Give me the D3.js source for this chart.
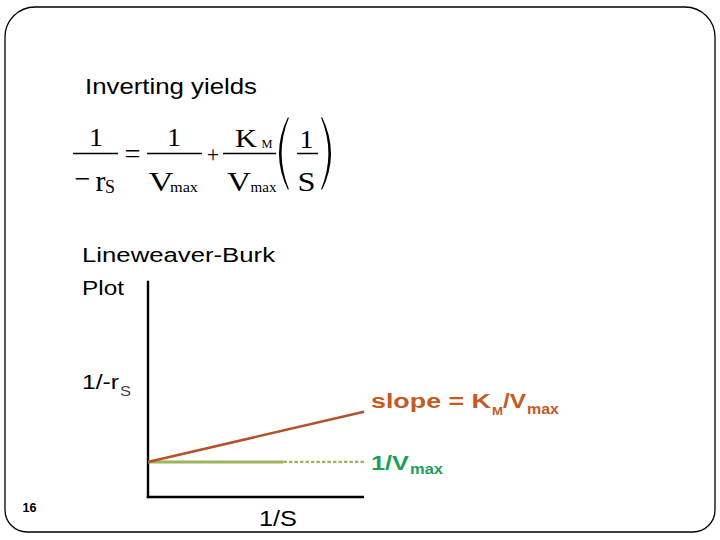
<!DOCTYPE html>
<html><head><meta charset="utf-8">
<script src="https://cdn.jsdelivr.net/npm/d3@7"></script>
<style>html,body{margin:0;padding:0;background:#fff;}svg{display:block;}</style>
</head><body>
<script>
// Data
const invS = [0, 1];                  // 1/S (arbitrary units)
const invRate = [0.162, 0.394];       // 1/-rS along the fitted line
const interceptVals = [0.162, 0.162]; // 1/Vmax horizontal reference
const solidEnd = 0.627;               // where the intercept reference turns dashed
const yLabels = ["1/-r", "S"];
const xLabel = "1/S";
const pageNumber = "16";

const W = 720, H = 540;
const svg = d3.select("body").append("svg").attr("width", W).attr("height", H);

// slide border
const L = 5, T = 7, R = 715, B = 532, rt = 30, rb = 22;
svg.append("path")
  .attr("d", `M${L+rt},${T} H${R-rt} A${rt},${rt} 0 0 1 ${R},${T+rt} V${B-rb} A${rb},${rb} 0 0 1 ${R-rb},${B} H${L+rb} A${rb},${rb} 0 0 1 ${L},${B-rb} V${T+rt} A${rt},${rt} 0 0 1 ${L+rt},${T} Z`)
  .attr("fill", "none").attr("stroke", "#000").attr("stroke-width", 1.3);

const sans = "Arial, 'Liberation Sans', sans-serif";
const serif = "'Times New Roman', 'Liberation Serif', serif";

// helper: text stretched to a given length
function txt(parent, x, y, str, o) {
  o = o || {};
  const t = parent.append("text").attr("x", x).attr("y", y)
    .attr("font-family", o.family || sans).attr("font-size", o.size || 20)
    .attr("fill", o.fill || "#000").text(str);
  if (o.weight) t.attr("font-weight", o.weight);
  if (o.anchor) t.attr("text-anchor", o.anchor);
  if (o.len) t.attr("textLength", o.len).attr("lengthAdjust", "spacingAndGlyphs");
  return t;
}

txt(svg, 85, 93.5, "Inverting yields", {size: 22, len: 172});

// Equation
const eq = svg.append("g");
function bar(x1, x2, y) { eq.append("line").attr("x1", x1).attr("x2", x2).attr("y1", y).attr("y2", y).attr("stroke", "#000").attr("stroke-width", 1.5); }
const S = {family: serif};
const fy = 153.5;
// 1/(-rS)
txt(eq, 96, 145.5, "1", {...S, size: 26, anchor: "middle", len: 14});
bar(73, 118, fy);
txt(eq, 82.5, 188, "\u2212", {...S, size: 28, anchor: "middle", len: 16});
txt(eq, 100.5, 190.5, "r", {...S, size: 29, anchor: "middle", len: 10});
txt(eq, 110, 193, "S", {...S, size: 19, anchor: "middle", len: 10});
txt(eq, 132.5, 162.5, "=", {...S, size: 28, anchor: "middle", len: 16});
// 1/Vmax
txt(eq, 174, 145.5, "1", {...S, size: 26, anchor: "middle", len: 14});
bar(147, 202, fy);
txt(eq, 161, 191, "V", {...S, size: 28, anchor: "middle", len: 25});
txt(eq, 170, 192, "max", {...S, size: 14, len: 28});
txt(eq, 213, 162, "+", {...S, size: 24, anchor: "middle", len: 12});
// KM/Vmax
txt(eq, 246, 147, "K", {...S, size: 25, anchor: "middle", len: 22});
txt(eq, 267, 148, "M", {...S, size: 13, anchor: "middle", len: 11});
bar(223, 276, fy);
txt(eq, 239, 191, "V", {...S, size: 28, anchor: "middle", len: 24});
txt(eq, 250.5, 192, "max", {...S, size: 14, len: 26});
// (1/S)
function paren(xo, xi, dir) {
  const top = 117, bot = 190, mid = (top + bot) / 2;
  const bulge = xo, end = xi, inner = xo + dir * 2.6;
  return `M${end},${top} Q${2*bulge-end},${mid} ${end},${bot} L${end+dir*0.8},${bot-1} Q${2*inner-end-dir*0.8},${mid} ${end+dir*0.8},${top+1} Z`;
}
eq.append("path").attr("d", paren(279, 288, 1)).attr("fill", "#000");
eq.append("path").attr("d", paren(331, 322, -1)).attr("fill", "#000");
txt(eq, 306.5, 147.5, "1", {...S, size: 26, anchor: "middle", len: 14});
bar(297, 318, fy);
txt(eq, 306.5, 190.5, "S", {...S, size: 28, anchor: "middle", len: 18});

// Labels
txt(svg, 82, 262, "Lineweaver-Burk", {size: 20, len: 193});
txt(svg, 82, 295, "Plot", {size: 20, len: 42});
txt(svg, 82, 388.5, yLabels[0], {size: 20, len: 37});
txt(svg, 120, 396, yLabels[1], {size: 14, len: 11, fill: "#444"});

// Scales
const x = d3.scaleLinear().domain([0, 1]).range([148, 364]);
const y = d3.scaleLinear().domain([0, 1]).range([497, 280.7]);

// Axes (no ticks)
svg.append("g").attr("transform", `translate(0,${y(0)})`)
  .call(d3.axisBottom(x).ticks(0).tickSize(0).tickSizeOuter(0))
  .call(g => g.select(".domain").attr("stroke", "#000").attr("stroke-width", 2.4).attr("d", `M${x(0)-1.2},0H${x(1)}`));
svg.append("g").attr("transform", `translate(${x(0)},0)`)
  .call(d3.axisLeft(y).ticks(0).tickSize(0).tickSizeOuter(0))
  .call(g => g.select(".domain").attr("stroke", "#000").attr("stroke-width", 2.4).attr("d", `M0,${y(0)+1.2}V${y(1)}`));

// intercept reference line: solid then dashed
const line = d3.line().x(d => x(d[0])).y(d => y(d[1]));
svg.append("path").datum([[invS[0], interceptVals[0]], [solidEnd, interceptVals[0]]])
  .attr("d", line).attr("stroke", "#9bb45a").attr("stroke-width", 3).attr("fill", "none");
svg.append("path").datum([[solidEnd, interceptVals[0]], [invS[1], interceptVals[1]]])
  .attr("d", line).attr("stroke", "#9bb45a").attr("stroke-width", 2.2).attr("stroke-dasharray", "3.5,2").attr("fill", "none");

// fitted line
svg.append("path").datum(invS.map((v, i) => [v, invRate[i]]))
  .attr("d", line).attr("stroke", "#b4522a").attr("stroke-width", 2.5).attr("fill", "none");

// annotations
const red = "#c45a24", green = "#1f9e5a";
txt(svg, 371, 407.5, "slope = K", {size: 20, weight: "bold", fill: red, len: 120});
txt(svg, 492, 415, "M", {size: 11, weight: "bold", fill: red, len: 11});
txt(svg, 503, 407.5, "/V", {size: 20, weight: "bold", fill: red, len: 23});
txt(svg, 527, 414, "max", {size: 14, weight: "bold", fill: red, len: 32});

txt(svg, 371, 469.5, "1/V", {size: 20, weight: "bold", fill: green, len: 38});
txt(svg, 410, 473.5, "max", {size: 14, weight: "bold", fill: green, len: 33});

txt(svg, 259, 525.5, xLabel, {size: 22, len: 38});

txt(svg, 22.5, 512, pageNumber, {size: 12, weight: "bold", len: 14});
</script>
</body></html>
